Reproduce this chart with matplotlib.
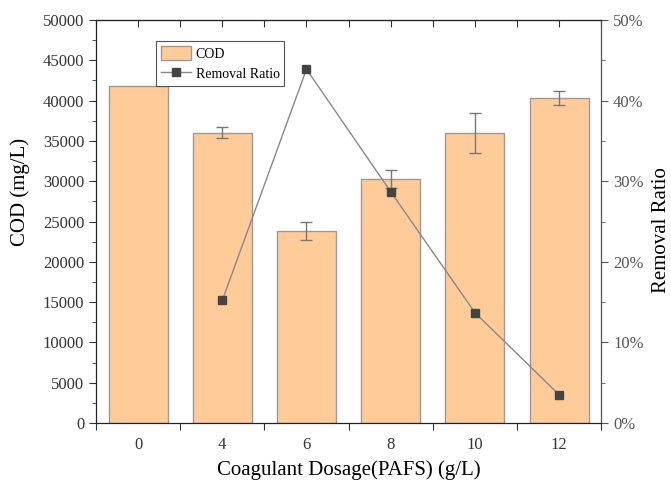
import matplotlib
matplotlib.use("Agg")
import matplotlib.pyplot as plt
from matplotlib.ticker import MultipleLocator, PercentFormatter
import numpy as np

plt.rcParams['font.family'] = ['Liberation Serif', 'DejaVu Serif']

# data
dosage = ['0', '4', '6', '8', '10', '12']
cod = [41800, 36000, 23800, 30300, 36000, 40300]
cod_err = [0, 700, 1100, 1100, 2500, 900]
ratio_x = [1, 2, 3, 4, 5]
ratio = [15.2, 43.9, 28.7, 13.7, 3.5]

fig = plt.figure(figsize=(6.71, 4.82), dpi=100)
ax = fig.add_axes([0.143, 0.1224, 0.753, 0.8361])
x = np.arange(len(dosage))

err = [e if e > 0 else np.nan for e in cod_err]
ax.bar(x, cod, width=0.7, color='#ffcc99', edgecolor='#999999', linewidth=1.0,
       label='COD', zorder=2)
ax.errorbar(x, cod, yerr=err, fmt='none', ecolor='#777777', elinewidth=1.0,
            capsize=4, capthick=1.0, zorder=3)

ax.set_xlim(-0.5, 5.5)
ax.set_ylim(0, 50000)
ax.yaxis.set_major_locator(MultipleLocator(5000))
ax.yaxis.set_minor_locator(MultipleLocator(2500))
ax.set_xticks(np.arange(-0.5, 6, 1.0))
ax.set_xticklabels([])
ax.set_xticks(x, minor=True)
ax.set_xticklabels(dosage, minor=True)
ax.tick_params(axis='x', which='minor', length=0, pad=10, labelsize=12,
               labelcolor='#333333')
ax.tick_params(axis='x', which='major', length=5, direction='out', color='#333333')
ax.tick_params(axis='y', which='major', length=5, direction='out', labelsize=12,
               labelcolor='#333333', color='#333333')
ax.tick_params(axis='y', which='minor', length=3, direction='out', color='#333333')
ax.set_ylabel('COD (mg/L)', fontsize=15)
ax.yaxis.set_label_coords(-0.13, 0.573)
ax.set_xlabel('Coagulant Dosage(PAFS) (g/L)', fontsize=15, labelpad=5)

top = ax.secondary_xaxis('top')
top.set_xticks(np.arange(-0.5, 6, 0.5))
top.set_xticklabels([])
top.tick_params(direction='in', length=5, color='#333333')

ax2 = ax.twinx()
ax2.plot(ratio_x, ratio, color='#888888', lw=1.0, marker='s', markersize=6,
         markerfacecolor='#444444', markeredgecolor='#444444', label='Removal Ratio',
         zorder=4)
ax2.set_ylim(0, 50)
ax2.yaxis.set_major_locator(MultipleLocator(10))
ax2.yaxis.set_minor_locator(MultipleLocator(5))
ax2.yaxis.set_major_formatter(PercentFormatter(decimals=0))
ax2.tick_params(axis='y', which='major', length=5, direction='out', labelsize=12,
                labelcolor='#555555', color='#555555')
ax2.tick_params(axis='y', which='minor', length=3, direction='out', color='#555555')
ax2.set_ylabel('Removal Ratio', fontsize=15)
ax2.yaxis.set_label_coords(1.1, 0.479)
ax2.spines['right'].set_color('#555555')

for s in ['left', 'top', 'bottom']:
    ax2.spines[s].set_color('#222222')

h1, l1 = ax.get_legend_handles_labels()
h2, l2 = ax2.get_legend_handles_labels()
leg = ax2.legend(h1 + h2, l1 + l2, loc='upper left', bbox_to_anchor=(0.105, 0.965),
                 fontsize=10, fancybox=False, framealpha=1, edgecolor='#555555',
                 handlelength=2.2, handleheight=1.2, borderpad=0.35, labelspacing=0.4,
                 handletextpad=0.3)
leg.get_frame().set_linewidth(0.8)

fig.savefig('out.png', dpi=100)
